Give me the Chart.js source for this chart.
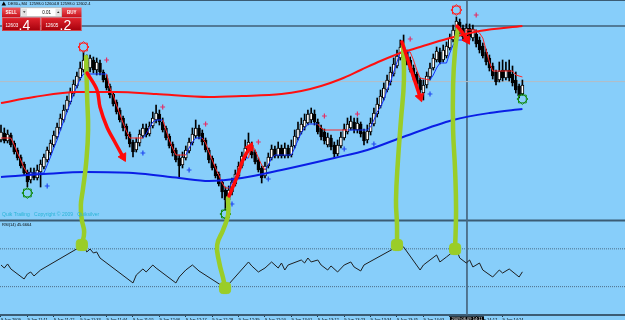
<!DOCTYPE html>
<html>
<head>
<meta charset="utf-8">
<script src="https://cdn.jsdelivr.net/npm/chart.js@4.4.1/dist/chart.umd.min.js"></script>
<style>
html,body{margin:0;padding:0;background:#87CEFA;overflow:hidden;}
canvas{display:block;}
</style>
</head>
<body>
<canvas id="c" width="625" height="320"></canvas>
<script>
// ---------------- DATA ----------------
const headerText = "DE30+,M4  12598.0 12604.8 12598.0 12602.4";
const bidText = ["12603", ".4"];
const askText = ["12605", ".2"];
const lotText = "0.01";
const indicatorNote = "Quik Trailing   Copyright \u00A9 2009   Quiksilver";
const rsiLabel = "RSI(14) 45.6664";
const cursorLabel = "2009.06.09 14:11";

const openP = [
12545,12552,12544,12550,12542,12535,12528,12521,12513,12505,
12513,12507,12513,12518,12525,12532,12540,12548,12557,12565,
12575,12583,12591,12599,12607,12615,12613,12617,12625,12615,
12622,12613,12607,12599,12591,12583,12575,12567,12559,12551,
12543,12535,12542,12549,12557,12551,12559,12565,12571,12563,
12557,12549,12541,12535,12527,12520,12527,12534,12542,12549,
12557,12552,12545,12535,12527,12519,12511,12503,12495,12485,
12493,12501,12509,12519,12527,12535,12540,12533,12525,12517,
12509,12519,12527,12536,12529,12537,12529,12537,12530,12539,
12547,12553,12558,12562,12565,12571,12563,12557,12553,12540,
12547,12540,12531,12539,12547,12553,12557,12563,12555,12561,
12553,12545,12553,12561,12571,12579,12587,12595,12603,12611,
12619,12627,12638,12633,12625,12617,12611,12605,12592,12600,
12608,12617,12625,12633,12625,12629,12637,12645,12654,12663,
12657,12649,12657,12647,12651,12645,12639,12633,12627,12619,
12613,12605,12615,12607,12615,12611,12605,12599,12591];
const closeP = [
12553,12544,12551,12540,12533,12527,12519,12512,12503,12513,
12507,12515,12521,12528,12535,12542,12550,12558,12567,12575,
12585,12593,12601,12609,12617,12625,12623,12627,12615,12623,
12613,12605,12597,12590,12581,12573,12565,12557,12549,12541,
12533,12543,12551,12557,12550,12559,12567,12572,12563,12555,
12547,12539,12532,12525,12519,12528,12535,12543,12551,12557,
12549,12543,12535,12525,12517,12509,12501,12493,12485,12495,
12503,12511,12519,12529,12537,12543,12530,12523,12515,12507,
12519,12528,12536,12529,12537,12529,12537,12529,12539,12549,
12556,12561,12565,12571,12572,12563,12553,12548,12544,12548,
12538,12531,12540,12548,12556,12561,12564,12555,12562,12551,
12544,12554,12562,12572,12581,12589,12597,12605,12613,12621,
12629,12638,12629,12623,12615,12608,12601,12595,12600,12609,
12617,12627,12634,12623,12635,12639,12647,12655,12664,12654,
12648,12657,12648,12656,12641,12635,12629,12623,12617,12609,
12603,12614,12607,12615,12607,12602,12595,12589,12600];
const highP = [
12560,12557,12555,12552,12544,12537,12530,12523,12515,12517,
12517,12520,12525,12531,12538,12545,12554,12562,12571,12580,
12589,12597,12605,12613,12623,12633,12630,12630,12628,12627,
12625,12615,12610,12601,12593,12585,12577,12569,12561,12553,
12545,12547,12555,12561,12561,12563,12573,12580,12575,12567,
12559,12551,12543,12537,12530,12533,12539,12547,12557,12565,
12560,12555,12547,12537,12529,12521,12513,12505,12498,12499,
12507,12515,12523,12533,12545,12552,12543,12535,12527,12519,
12523,12532,12540,12539,12543,12540,12542,12540,12545,12555,
12563,12567,12571,12575,12577,12575,12566,12560,12556,12552,
12550,12543,12545,12553,12561,12567,12569,12567,12567,12563,
12556,12560,12567,12577,12587,12595,12602,12610,12618,12627,
12635,12645,12650,12635,12628,12620,12613,12607,12605,12613,
12622,12631,12638,12637,12640,12643,12651,12660,12668,12666,
12660,12661,12661,12660,12655,12648,12642,12636,12630,12622,
12615,12623,12625,12623,12625,12619,12613,12601,12605];
const lowP = [
12543,12542,12542,12538,12531,12525,12517,12510,12498,12502,
12505,12505,12498,12516,12523,12530,12538,12546,12555,12563,
12573,12581,12589,12597,12605,12613,12610,12613,12612,12610,
12610,12603,12595,12587,12579,12571,12563,12554,12546,12538,
12528,12533,12539,12547,12548,12549,12557,12562,12560,12553,
12545,12537,12529,12523,12507,12517,12525,12532,12540,12547,
12546,12540,12533,12522,12515,12507,12499,12487,12475,12481,
12490,12499,12507,12517,12525,12533,12527,12521,12513,12502,
12507,12517,12525,12527,12527,12527,12527,12527,12528,12537,
12545,12551,12555,12560,12562,12560,12551,12545,12541,12538,
12535,12527,12529,12537,12545,12551,12555,12552,12552,12548,
12540,12542,12550,12559,12568,12577,12585,12593,12600,12609,
12617,12625,12627,12620,12613,12605,12598,12592,12585,12597,
12605,12615,12623,12621,12623,12627,12635,12643,12652,12651,
12645,12645,12645,12644,12638,12632,12627,12620,12614,12606,
12600,12603,12604,12605,12604,12599,12592,12587,12590];

// long moving averages: [bar index, price]
const redMA = [[0,12582],[10,12588],[23,12593],[35,12593],[47,12591],[63,12588],[73,12589],[85,12591],[91,12594],[97,12599],[103,12606],[109,12615],[115,12624],[121,12632],[127,12638],[135,12646],[145,12654],[158,12659]];
const blueMA = [[0,12508],[13,12511],[26,12513],[40,12512],[54,12507],[63,12504],[73,12507],[85,12515],[101,12527],[111,12535],[121,12547],[137,12565],[148,12572],[158,12576]];

// trailing stop lines, segments of [bar index, price]
const trailRed = [
 [[0,12547],[3,12547],[4,12540],[5,12532],[6,12525],[7,12517],[8,12512]],
 [[32,12611],[33,12597],[34,12590],[35,12580],[36,12571],[37,12562],[38,12554],[39,12547],[43,12547]],
 [[49,12565],[50,12555],[51,12545],[52,12537],[53,12530],[56,12530]],
 [[61,12547],[62,12542],[63,12533],[64,12525],[65,12517],[66,12510],[67,12502],[68,12497],[69,12497]],
 [[75,12527],[76,12540],[77,12535],[78,12527],[79,12520],[80,12515]],
 [[96,12561],[97,12557],[98,12555],[105,12555]],
 [[124,12633],[125,12625],[126,12615],[127,12607],[130,12605]],
 [[141,12645],[141,12655],[144,12655],[145,12652],[146,12647],[147,12635],[148,12623],[149,12614],[155,12614],[156,12610],[158,12608]]
];
const trailBlue = [
 [[8,12512],[13,12512],[14,12520],[15,12528],[16,12537],[17,12545],[18,12555],[19,12564],[20,12573],[21,12582],[22,12591],[23,12599],[24,12606],[25,12611],[32,12611]],
 [[43,12547],[44,12551],[45,12557],[46,12563],[47,12565],[49,12565]],
 [[56,12530],[57,12537],[58,12543],[59,12547],[61,12547]],
 [[69,12497],[70,12502],[71,12508],[72,12515],[73,12522],[74,12527],[75,12527]],
 [[80,12515],[81,12520],[82,12527],[83,12530],[88,12530],[89,12537],[90,12545],[91,12552],[92,12557],[93,12561],[96,12561]],
 [[105,12555],[111,12555],[112,12558],[113,12565],[114,12573],[115,12578],[116,12585],[117,12595],[118,12603],[119,12613],[120,12623],[121,12633],[124,12633]],
 [[130,12605],[131,12610],[132,12617],[133,12622],[135,12622],[136,12632],[137,12640],[138,12645],[141,12645]]
];

// signal marks
const sellIdx = [32,49,62,78,98,108,124,144];
const sellP   = [12625,12578,12561,12543,12569,12571,12646,12670];
const buyIdx  = [14,43,57,70,81,104,113,130];
const buyP    = [12499,12532,12515,12481,12506,12536,12541,12591];
const topIdx  = [25,138];
const topP    = [12638,12675];
const botIdx  = [8,68,158];
const botP    = [12492,12471,12586];

// RSI(14)
const rsiIdx = [0,1,2,3,7,8,9,10,12,25,26,27,28,29,30,40,41,43,44,46,47,53,54,56,58,60,68,75,76,78,80,82,84,85,86,87,91,92,93,94,96,97,99,100,102,104,106,107,109,110,121,122,127,128,132,133,135,138,139,141,142,143,145,146,149,151,152,154,157,158];
const rsiVal = [52.9,49.7,54.0,48.7,38.1,43.4,45.5,41.3,47.6,74.1,66.7,69.8,65.6,66.7,60.3,33.9,42.3,48.7,45.5,52.9,49.7,33.9,40.2,47.6,52.9,46.6,28.6,56.1,51.9,45.5,49.7,56.1,49.7,55.0,47.6,52.9,58.2,55.0,60.3,56.1,58.2,52.9,47.6,51.9,45.5,52.9,56.1,50.8,46.6,52.9,74.1,72.0,47.6,52.9,63.5,56.1,61.4,69.8,60.3,55.0,58.2,50.8,55.0,47.6,40.2,47.6,44.4,48.7,40.2,45.67];
const rsiLevels = [70, 30];

// horizontal / vertical chart objects
const hLinePrice = 12659;
const bidLinePrice = 12603.4;
const cursorIdx = 141.2;

// hand-drawn annotations: [bar index, price]
const limeMarks = [
 [[25.8,12628],[26.1,12588],[26.4,12555],[25.8,12522],[24.8,12495],[24.2,12480],[24.5,12465],[25.2,12453],[24.5,12440]],
 [[68.8,12487],[68.8,12470],[67.3,12455],[65.5,12440],[66.1,12423],[67.3,12407],[67.9,12397]],
 [[121.8,12640],[122.1,12605],[121.2,12565],[120.3,12525],[119.7,12485],[120,12460],[120,12440]],
 [[138.5,12657],[137.6,12635],[137,12600],[137,12555],[137.6,12515],[137.9,12475],[137.6,12436]]
];
const redArrows = [
 [[26.1,12612],[29.1,12595],[30,12578],[32.1,12558],[34.5,12543],[37,12528]],
 [[69.1,12489],[71.5,12508],[73.3,12525],[75.5,12538]],
 [[121.5,12643],[123,12628],[124.5,12613],[126.1,12597],[127,12588]],
 [[138.2,12659],[139.7,12653],[141.2,12645]]
];
const arrowHeadAngle = [152, 28, 162, 148];

// time axis
const timeIdx = [0,8,16,24,32,40,48,56,64,72,80,88,96,104,112,120,128,136,144,152];
const timeLabels = ["9 Jun 2009","9 Jun 11:11","9 Jun 11:22","9 Jun 11:33","9 Jun 11:44","9 Jun 11:55","9 Jun 12:06","9 Jun 12:17","9 Jun 12:28","9 Jun 12:39","9 Jun 12:50","9 Jun 13:01","9 Jun 13:12","9 Jun 13:23","9 Jun 13:34","9 Jun 13:45","9 Jun 14:03","9 Jun 14:10","9 Jun 14:17","9 Jun 14:24"];

// ---------------- BUILD ----------------
const X_MIN = -0.3, X_MAX = 189.09;
const Y_MIN = 12370, Y_MAX = 12685;
const idx = openP.map((_, i) => i);
const pts = a => a.map(p => ({x: p[0], y: p[1]}));
const segs = list => { const out = []; list.forEach((s, k) => { if (k) out.push({x: s[0][0], y: null}); s.forEach(p => out.push({x: p[0], y: p[1]})); }); return out; };
const hline = (v) => [{x: X_MIN, y: v}, {x: X_MAX, y: v}];

const datasets = [];
// background objects
datasets.push({type:'line', data: hline(Y_MAX), borderColor:'#3b5c74', borderWidth:2, pointRadius:0, order:20});
datasets.push({type:'line', data: hline(hLinePrice), borderColor:'#3f5f77', borderWidth:1.4, pointRadius:0, order:20});
datasets.push({type:'line', data: hline(bidLinePrice), borderColor:'#b4bcc4', borderWidth:1, pointRadius:0, order:20});
datasets.push({type:'line', data: [{x:cursorIdx,y:Y_MAX},{x:cursorIdx,y:Y_MIN}], borderColor:'#4a6a82', borderWidth:1, pointRadius:0, order:20});
datasets.push({type:'line', yAxisID:'yR', data: hline(100), borderColor:'#3b5c74', borderWidth:2.2, pointRadius:0, order:20});
rsiLevels.forEach(l => datasets.push({type:'line', yAxisID:'yR', data: hline(l), borderColor:'#4d6d86', borderWidth:1, borderDash:[1,1], pointRadius:0, order:19}));
// candles
datasets.push({type:'bar', data: idx.map(i => ({x:i, y:[lowP[i], highP[i]]})), backgroundColor:'#000', barThickness:1, grouped:false, order:12});
datasets.push({type:'bar', data: idx.map(i => ({x:i, y:[openP[i], closeP[i]]})), backgroundColor: idx.map(i => closeP[i] > openP[i] ? '#ffffff' : '#000000'), borderColor:'#000', borderWidth:1, borderSkipped:false, barThickness:3, grouped:false, order:11});
// moving averages
datasets.push({type:'line', data: pts(redMA), borderColor:'#ff1010', borderWidth:2, pointRadius:0, cubicInterpolationMode:'monotone', order:8});
datasets.push({type:'line', data: pts(blueMA), borderColor:'#0a1ee6', borderWidth:2, pointRadius:0, cubicInterpolationMode:'monotone', order:8});
// trailing lines
datasets.push({type:'line', data: segs(trailRed), borderColor:'#ff2828', borderWidth:1, pointRadius:0, spanGaps:false, order:9});
datasets.push({type:'line', data: segs(trailBlue), borderColor:'#1030ff', borderWidth:1, pointRadius:0, spanGaps:false, order:9});
// signals
datasets.push({type:'line', showLine:false, data: sellIdx.map((v,k)=>({x:v,y:sellP[k]})), pointStyle:'cross', pointRadius:2.4, pointBorderWidth:1.2, borderColor:'#e23068', order:6});
datasets.push({type:'line', showLine:false, data: buyIdx.map((v,k)=>({x:v,y:buyP[k]})), pointStyle:'cross', pointRadius:2.4, pointBorderWidth:1.2, borderColor:'#2048f0', order:6});
['rect','rectRot'].forEach(ps => {
  datasets.push({type:'line', showLine:false, data: topIdx.map((v,k)=>({x:v,y:topP[k]})), pointStyle:ps, pointRadius:5.5, pointBorderWidth:1, borderColor:'#ff2020', backgroundColor:'rgba(0,0,0,0)', order:5});
  datasets.push({type:'line', showLine:false, data: botIdx.map((v,k)=>({x:v,y:botP[k]})), pointStyle:ps, pointRadius:5.5, pointBorderWidth:1, borderColor:'#138a13', backgroundColor:'rgba(0,0,0,0)', order:5});
});
// RSI
datasets.push({type:'line', yAxisID:'yR', data: rsiIdx.map((v,k)=>({x:v,y:rsiVal[k]})), borderColor:'#1e1e1e', borderWidth:1, pointRadius:0, order:7});
// lime annotations
limeMarks.forEach(m => {
  datasets.push({type:'line', data: pts(m), borderColor:'#9acd28', borderWidth:4.5, borderCapStyle:'round', borderJoinStyle:'round', tension:0.45, pointRadius:0, order:3});
  const e = m[m.length-1];
  datasets.push({type:'line', showLine:false, data:[{x:e[0],y:e[1]}], pointStyle:'rectRounded', pointRadius:6.5, backgroundColor:'#9acd28', borderColor:'#9acd28', order:3});
});
// red arrows
redArrows.forEach((a, k) => {
  datasets.push({type:'line', data: pts(a), borderColor:'#ff0a0a', borderWidth:3.5, borderCapStyle:'round', borderJoinStyle:'round', tension:0.35, pointRadius:0, order:1});
  const e = a[a.length-1];
  datasets.push({type:'line', showLine:false, data:[{x:e[0],y:e[1]}], pointStyle:'triangle', pointRadius:5, pointRotation:arrowHeadAngle[k], backgroundColor:'#ff0a0a', borderColor:'#ff0a0a', order:1});
});

// overlay texts / trading panel
const overlay = {
  id: 'overlay',
  afterDraw(chart) {
    const c = chart.ctx;
    c.save();
    c.textBaseline = 'middle';
    // header
    c.fillStyle = '#000';
    c.beginPath(); c.moveTo(1.5,5.5); c.lineTo(3.8,1.5); c.lineTo(6,5.5); c.closePath(); c.fill();
    c.font = '4px "Liberation Sans", Arial, sans-serif';
    c.textAlign = 'left';
    c.fillText(headerText, 8, 3.8);
    // one click trading panel
    const grad = (x, y, w, h, t, b) => { const g = c.createLinearGradient(0, y, 0, y + h); g.addColorStop(0, t); g.addColorStop(1, b); c.fillStyle = g; c.fillRect(x, y, w, h); };
    grad(2, 7.5, 18.5, 9.5, '#f25a60', '#c9121c');
    grad(62, 7.5, 19.5, 9.5, '#f25a60', '#c9121c');
    c.fillStyle = '#ffffff'; c.fillRect(20.5, 7.5, 41.5, 9.5);
    c.strokeStyle = '#9c9c9c'; c.lineWidth = 0.6; c.strokeRect(20.8, 7.8, 40.9, 8.9);
    c.fillStyle = '#e2e2e2'; c.fillRect(21.5, 8.6, 5.5, 7.3); c.fillRect(55.5, 8.6, 5.5, 7.3);
    c.fillStyle = '#333';
    c.beginPath(); c.moveTo(23,11.2); c.lineTo(25.5,11.2); c.lineTo(24.25,13); c.closePath(); c.fill();
    c.beginPath(); c.moveTo(57,13); c.lineTo(59.5,13); c.lineTo(58.25,11.2); c.closePath(); c.fill();
    c.fillStyle = '#000'; c.font = '4.5px "Liberation Sans", Arial, sans-serif'; c.textAlign = 'right';
    c.fillText(lotText, 51, 12.3);
    c.fillStyle = '#ffffff'; c.textAlign = 'center'; c.font = 'bold 4.5px "Liberation Sans", Arial, sans-serif';
    c.fillText('SELL', 11.3, 12.3);
    c.fillText('BUY', 71.8, 12.3);
    grad(2, 17.5, 38.5, 13.5, '#e3242d', '#a3000b');
    grad(41, 17.5, 40.5, 13.5, '#e3242d', '#a3000b');
    c.strokeStyle = '#f07070'; c.lineWidth = 0.6;
    c.strokeRect(2.3, 17.8, 37.9, 12.9); c.strokeRect(41.3, 17.8, 39.9, 12.9);
    c.fillStyle = '#ffffff'; c.textAlign = 'left'; c.textBaseline = 'alphabetic';
    c.font = '4.6px "Liberation Sans", Arial, sans-serif';
    c.fillText(bidText[0], 5.5, 27.3);
    c.fillText(askText[0], 45.5, 27.3);
    c.font = '14px "Liberation Sans", Arial, sans-serif';
    c.fillText(bidText[1], 18.5, 29.6);
    c.fillText(askText[1], 59.5, 29.6);
    // indicator captions
    c.textBaseline = 'middle';
    c.font = '5px "Liberation Sans", Arial, sans-serif';
    c.fillStyle = '#2ab4d6';
    c.fillText(indicatorNote, 2, 215);
    c.font = '4px "Liberation Sans", Arial, sans-serif';
    c.fillStyle = '#000';
    c.fillText(rsiLabel, 2, 225.2);
    // cursor time box on the time axis
    const cx = chart.scales.x.getPixelForValue(cursorIdx);
    c.fillStyle = '#000'; c.fillRect(cx - 17, 316.3, 34, 4);
    c.fillStyle = '#fff'; c.textAlign = 'center'; c.textBaseline = 'top';
    c.font = '4px "Liberation Sans", Arial, sans-serif';
    c.fillText(cursorLabel, cx, 316.6);
    c.restore();
  }
};

new Chart(document.getElementById('c'), {
  type: 'line',
  data: { datasets },
  options: {
    responsive: false,
    devicePixelRatio: 1,
    animation: false,
    events: [],
    layout: { padding: 0, autoPadding: false },
    plugins: { legend: { display: false }, tooltip: { enabled: false }, title: { display: false } },
    scales: {
      x: {
        type: 'linear', min: X_MIN, max: X_MAX, position: 'bottom', offset: false,
        afterBuildTicks: s => { s.ticks = timeIdx.map(v => ({ value: v })); },
        afterFit: s => { s.height = 5; s.paddingLeft = 0; s.paddingRight = 0; },
        ticks: { autoSkip: false, maxRotation: 0, minRotation: 0, align: 'start', padding: 0, color: '#000',
                 font: { size: 4, family: '"Liberation Sans", Arial, sans-serif' },
                 callback: v => timeLabels[timeIdx.indexOf(v)] },
        grid: { display: true, offset: false, drawOnChartArea: false, drawTicks: true, tickLength: 2, color: '#1c3446', lineWidth: 1 },
        border: { display: true, color: '#3b5c74', width: 2 }
      },
      y: { type: 'linear', display: false, min: Y_MIN, max: Y_MAX },
      yR: { type: 'linear', display: false, min: 0, max: 333.3 }
    }
  },
  plugins: [overlay]
});
</script>
</body>
</html>
